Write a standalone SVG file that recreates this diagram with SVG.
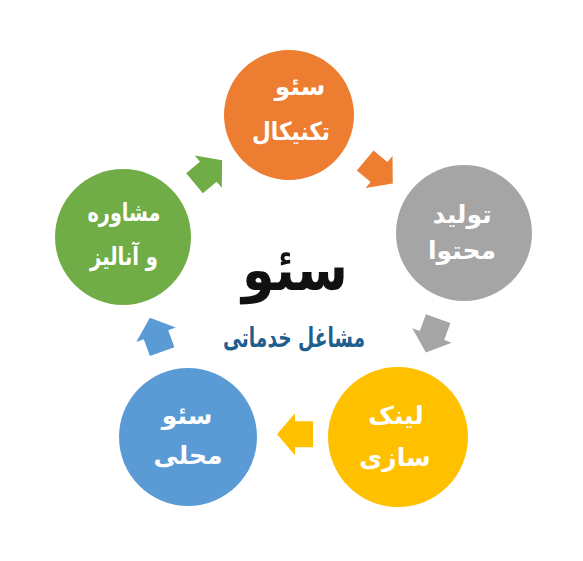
<svg xmlns="http://www.w3.org/2000/svg" width="583" height="561" viewBox="0 0 583 561">
<style>
.lbl{font-family:"DejaVu Sans","Noto Sans",sans-serif;font-weight:bold;font-size:25px;fill:#ffffff;text-anchor:middle}
.title{font-family:"DejaVu Sans","Noto Sans",sans-serif;font-weight:bold;text-anchor:middle}
</style>
<defs>
<path id="arw" d="M-18,-13 L0,-13 L0,-21 L18,0 L0,21 L0,13 L-18,13 Z"/>
</defs>
<rect width="583" height="561" fill="#ffffff"/>
<g id="connectors">
<use href="#arw" fill="#ED7D31" transform="translate(379,172) rotate(40)"/>
<use href="#arw" fill="#A5A5A5" transform="translate(432,335.5) rotate(110)"/>
<use href="#arw" fill="#FFC000" transform="translate(295,434.3) rotate(180)"/>
<use href="#arw" fill="#5B9BD5" transform="translate(156,334.7) rotate(-110)"/>
<use href="#arw" fill="#70AD47" transform="translate(208.3,171.7) rotate(-40)"/>
</g>
<g id="node-technical">
<circle cx="289" cy="115" r="65" fill="#ED7D31"/>
<text class="lbl" x="300" y="95">سئو</text>
<text class="lbl" x="291" y="140" textLength="78" lengthAdjust="spacingAndGlyphs">تکنیکال</text>
</g>
<g id="node-content">
<circle cx="464" cy="233" r="68" fill="#A5A5A5"/>
<text class="lbl" x="462" y="223">تولید</text>
<text class="lbl" x="462" y="259">محتوا</text>
</g>
<g id="node-link">
<circle cx="398" cy="437" r="70" fill="#FFC000"/>
<text class="lbl" x="396" y="424">لینک</text>
<text class="lbl" x="395" y="466">سازی</text>
</g>
<g id="node-local">
<circle cx="188" cy="437" r="69" fill="#5B9BD5"/>
<text class="lbl" x="187" y="424">سئو</text>
<text class="lbl" x="188" y="464">محلی</text>
</g>
<g id="node-consult">
<circle cx="123" cy="237" r="68" fill="#70AD47"/>
<text class="lbl" x="124" y="221" textLength="73" lengthAdjust="spacingAndGlyphs">مشاوره</text>
<text class="lbl" x="124" y="265" textLength="68" lengthAdjust="spacingAndGlyphs">و آنالیز</text>
</g>
<g id="center">
<text class="title" x="295" y="290" font-size="60" fill="#111111" textLength="106" lengthAdjust="spacingAndGlyphs">سئو</text>
<text class="title" x="294" y="347" font-size="27" fill="#1F5F8F" textLength="142" lengthAdjust="spacingAndGlyphs">مشاغل خدماتی</text>
</g>
</svg>
